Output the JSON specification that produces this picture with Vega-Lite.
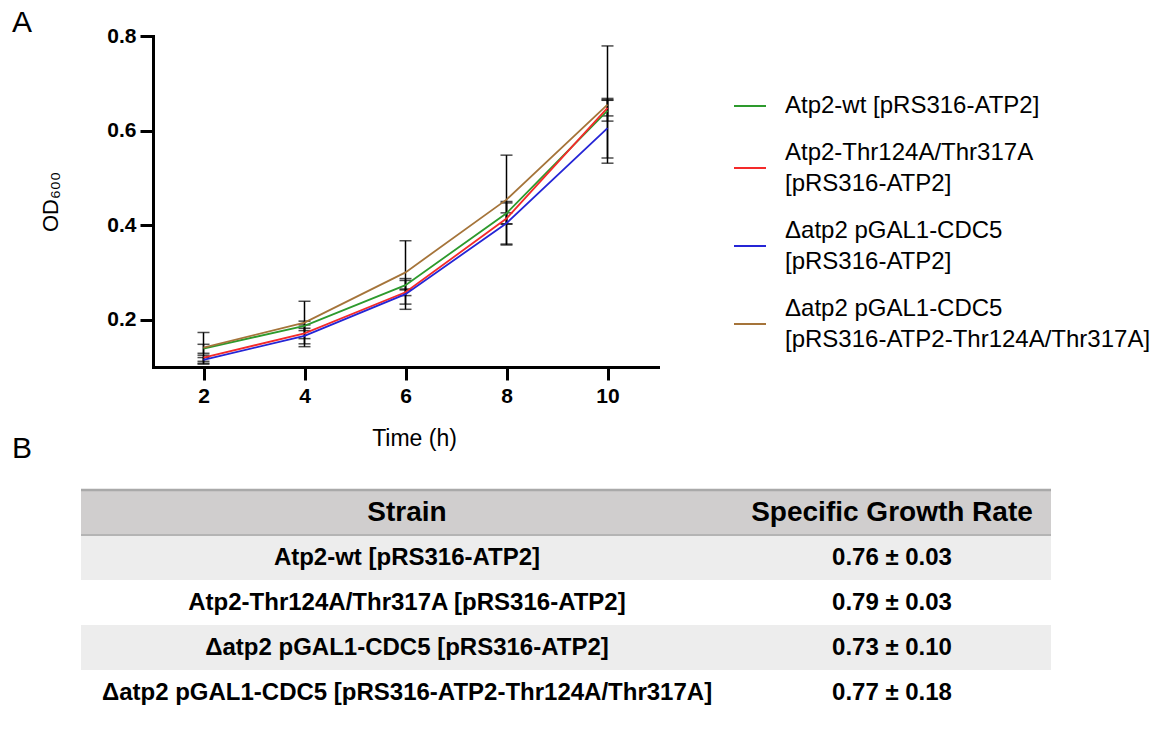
{
  "$schema": "https://vega.github.io/schema/vega-lite/v6.json",
  "background": "white",
  "padding": {"left": 12, "top": 7, "right": 5, "bottom": 5},
  "config": {
    "view": {"stroke": null},
    "font": "Liberation Sans",
    "axis": {"labelFont": "Liberation Sans", "titleFont": "Liberation Sans"},
    "legend": {"labelFont": "Liberation Sans", "titleFont": "Liberation Sans"},
    "title": {"font": "Liberation Sans"}
  },
  "resolve": {"scale": {"color": "independent"}, "legend": {"color": "independent"}},
  "datasets": {
    "growth": [
      {"strain": "Atp2-wt [pRS316-ATP2]", "time": 2, "od": 0.139, "lo": 0.129, "hi": 0.148},
      {"strain": "Atp2-wt [pRS316-ATP2]", "time": 4, "od": 0.187, "lo": 0.177, "hi": 0.197},
      {"strain": "Atp2-wt [pRS316-ATP2]", "time": 6, "od": 0.273, "lo": 0.263, "hi": 0.283},
      {"strain": "Atp2-wt [pRS316-ATP2]", "time": 8, "od": 0.425, "lo": 0.403, "hi": 0.447},
      {"strain": "Atp2-wt [pRS316-ATP2]", "time": 10, "od": 0.642, "lo": 0.620, "hi": 0.664},
      {"strain": "Atp2-Thr124A/Thr317A [pRS316-ATP2]", "time": 2, "od": 0.120, "lo": 0.112, "hi": 0.125},
      {"strain": "Atp2-Thr124A/Thr317A [pRS316-ATP2]", "time": 4, "od": 0.171, "lo": 0.160, "hi": 0.182},
      {"strain": "Atp2-Thr124A/Thr317A [pRS316-ATP2]", "time": 6, "od": 0.258, "lo": 0.251, "hi": 0.265},
      {"strain": "Atp2-Thr124A/Thr317A [pRS316-ATP2]", "time": 8, "od": 0.414, "lo": 0.402, "hi": 0.426},
      {"strain": "Atp2-Thr124A/Thr317A [pRS316-ATP2]", "time": 10, "od": 0.648, "lo": 0.631, "hi": 0.665},
      {"strain": "Δatp2 pGAL1-CDC5 [pRS316-ATP2]", "time": 2, "od": 0.115, "lo": 0.106, "hi": 0.120},
      {"strain": "Δatp2 pGAL1-CDC5 [pRS316-ATP2]", "time": 4, "od": 0.166, "lo": 0.143, "hi": 0.189},
      {"strain": "Δatp2 pGAL1-CDC5 [pRS316-ATP2]", "time": 6, "od": 0.254, "lo": 0.222, "hi": 0.287},
      {"strain": "Δatp2 pGAL1-CDC5 [pRS316-ATP2]", "time": 8, "od": 0.404, "lo": 0.358, "hi": 0.450},
      {"strain": "Δatp2 pGAL1-CDC5 [pRS316-ATP2]", "time": 10, "od": 0.605, "lo": 0.542, "hi": 0.668},
      {"strain": "Δatp2 pGAL1-CDC5 [pRS316-ATP2-Thr124A/Thr317A]", "time": 2, "od": 0.141, "lo": 0.108, "hi": 0.173},
      {"strain": "Δatp2 pGAL1-CDC5 [pRS316-ATP2-Thr124A/Thr317A]", "time": 4, "od": 0.194, "lo": 0.149, "hi": 0.239},
      {"strain": "Δatp2 pGAL1-CDC5 [pRS316-ATP2-Thr124A/Thr317A]", "time": 6, "od": 0.300, "lo": 0.233, "hi": 0.367},
      {"strain": "Δatp2 pGAL1-CDC5 [pRS316-ATP2-Thr124A/Thr317A]", "time": 8, "od": 0.454, "lo": 0.360, "hi": 0.548},
      {"strain": "Δatp2 pGAL1-CDC5 [pRS316-ATP2-Thr124A/Thr317A]", "time": 10, "od": 0.655, "lo": 0.531, "hi": 0.779}
    ],
    "rates": [
      {"strain": "Atp2-wt [pRS316-ATP2]", "rate": "0.76 ± 0.03"},
      {"strain": "Atp2-Thr124A/Thr317A [pRS316-ATP2]", "rate": "0.79 ± 0.03"},
      {"strain": "Δatp2 pGAL1-CDC5 [pRS316-ATP2]", "rate": "0.73 ± 0.10"},
      {"strain": "Δatp2 pGAL1-CDC5 [pRS316-ATP2-Thr124A/Thr317A]", "rate": "0.77 ± 0.18"}
    ],
    "header": [
      {"strain": "Strain", "rate": "Specific Growth Rate"}
    ]
  },
  "spacing": -17,
  "vconcat": [
    {
      "spacing": -43,
      "hconcat": [
        {
          "title": {"text": "A", "anchor": "start", "frame": "group", "orient": "top", "fontSize": 30, "fontWeight": "normal", "baseline": "alphabetic", "offset": -25.7, "dx": -69, "color": "black"},
          "width": 1,
          "height": 331,
          "data": {"values": [{}]},
          "mark": {"type": "text"},
          "encoding": {"text": {"value": ""}}
        },
        {
          "width": 505,
          "height": 331,
          "data": {"name": "growth"},
          "encoding": {
            "x": {
              "field": "time", "type": "quantitative",
              "scale": {"domain": [1, 11], "nice": false, "zero": false},
              "axis": {
                "values": [2, 4, 6, 8, 10], "title": "Time (h)", "grid": false,
                "titleFontSize": 23, "titleFontWeight": "normal", "titleColor": "black", "titlePadding": 21, "titleX": 261,
                "labelFontSize": 21, "labelFontWeight": "bold", "labelColor": "black", "labelPadding": 5, "labelFlush": false,
                "tickSize": 13, "tickWidth": 3, "tickColor": "black", "domainWidth": 3, "domainColor": "black", "domainCap": "square"
              }
            }
          },
          "layer": [
            {
              "mark": {"type": "rule", "color": "black", "strokeWidth": 1.5},
              "encoding": {
                "y": {
                  "field": "lo", "type": "quantitative", "title": "OD₆₀₀",
                  "scale": {"domain": [0.1, 0.8], "nice": false, "zero": false},
                  "axis": {
                    "values": [0.2, 0.4, 0.6, 0.8], "format": ".1f", "grid": false,
                    "titleFontSize": 22, "titleFontWeight": "normal", "titleColor": "black", "titlePadding": 44,
                    "labelFontSize": 21, "labelFontWeight": "bold", "labelColor": "black", "labelPadding": 4, "labelFlush": false,
                    "tickSize": 13, "tickWidth": 3, "tickColor": "black", "domainWidth": 3, "domainColor": "black", "domainCap": "square"
                  }
                },
                "y2": {"field": "hi"}
              }
            },
            {
              "mark": {"type": "tick", "orient": "horizontal", "color": "black", "size": 12, "thickness": 1.5},
              "encoding": {"y": {"field": "lo", "type": "quantitative", "title": "OD₆₀₀"}}
            },
            {
              "mark": {"type": "tick", "orient": "horizontal", "color": "black", "size": 12, "thickness": 1.5},
              "encoding": {"y": {"field": "hi", "type": "quantitative", "title": "OD₆₀₀"}}
            },
            {
              "mark": {"type": "line", "strokeWidth": 1.8},
              "encoding": {
                "y": {"field": "od", "type": "quantitative", "title": "OD₆₀₀"},
                "color": {
                  "field": "strain", "type": "nominal",
                  "scale": {
                    "domain": ["Atp2-wt [pRS316-ATP2]", "Atp2-Thr124A/Thr317A [pRS316-ATP2]", "Δatp2 pGAL1-CDC5 [pRS316-ATP2]", "Δatp2 pGAL1-CDC5 [pRS316-ATP2-Thr124A/Thr317A]"],
                    "range": ["#2d9a2d", "#f42a2a", "#2525d6", "#a5743a"]
                  },
                  "legend": {
                    "title": " ", "titleFontSize": 10, "titlePadding": 43,
                    "orient": "right", "offset": 75, "padding": 0,
                    "symbolType": "stroke", "symbolSize": 1024, "symbolStrokeWidth": 2,
                    "labelFontSize": 24, "labelColor": "black", "labelLimit": 600, "labelOffset": 18,
                    "rowPadding": 22, "labelBaseline": "middle",
                    "labelExpr": "length(datum.label) > 25 ? [substring(datum.label, 0, indexof(datum.label, ' [')), substring(datum.label, indexof(datum.label, ' [') + 1)] : datum.label",
                    "encode": {"labels": {"update": {"dy": {"signal": "length(datum.label) > 25 ? -15.5 : 0"}, "lineHeight": {"value": 31}}}}
                  }
                }
              }
            }
          ]
        }
      ]
    },
    {
      "spacing": 0,
      "bounds": "flush",
      "hconcat": [
        {
          "title": {"text": "B", "anchor": "start", "frame": "group", "orient": "top", "fontSize": 30, "fontWeight": "normal", "baseline": "alphabetic", "offset": 1, "dx": -69, "color": "black"},
          "width": 652,
          "height": 225,
          "layer": [
            {
              "data": {"name": "header"},
              "mark": {"type": "rect", "color": "#d0cece"},
              "encoding": {"y": {"field": "strain", "type": "nominal", "axis": null,
                "scale": {"domain": ["Strain", "Atp2-wt [pRS316-ATP2]", "Atp2-Thr124A/Thr317A [pRS316-ATP2]", "Δatp2 pGAL1-CDC5 [pRS316-ATP2]", "Δatp2 pGAL1-CDC5 [pRS316-ATP2-Thr124A/Thr317A]"], "paddingInner": 0, "paddingOuter": 0}}}
            },
            {
              "data": {"name": "rates"},
              "transform": [{"window": [{"op": "row_number", "as": "i"}]}],
              "mark": {"type": "rect"},
              "encoding": {
                "y": {"field": "strain", "type": "nominal"},
                "fill": {"condition": {"test": "datum.i % 2 == 1", "value": "#ededed"}, "value": "#ffffff"}
              }
            },
            {
              "data": {"name": "header"},
              "mark": {"type": "rule", "color": "#a9a9a9", "strokeWidth": 2.5},
              "encoding": {"y": {"field": "strain", "type": "nominal", "bandPosition": 0}}
            },
            {
              "data": {"name": "header"},
              "mark": {"type": "rule", "color": "#b4b4b4", "strokeWidth": 2},
              "encoding": {"y": {"field": "strain", "type": "nominal", "bandPosition": 1}}
            },
            {
              "data": {"name": "header"},
              "mark": {"type": "text", "fontSize": 28, "fontWeight": "bold", "color": "black"},
              "encoding": {"y": {"field": "strain", "type": "nominal"}, "text": {"field": "strain"}}
            },
            {
              "data": {"name": "rates"},
              "mark": {"type": "text", "fontSize": 24, "fontWeight": "bold", "color": "black"},
              "encoding": {"y": {"field": "strain", "type": "nominal"}, "text": {"field": "strain"}}
            }
          ]
        },
        {
          "width": 318,
          "height": 225,
          "layer": [
            {
              "data": {"name": "header"},
              "mark": {"type": "rect", "color": "#d0cece"},
              "encoding": {"y": {"field": "strain", "type": "nominal", "axis": null,
                "scale": {"domain": ["Strain", "Atp2-wt [pRS316-ATP2]", "Atp2-Thr124A/Thr317A [pRS316-ATP2]", "Δatp2 pGAL1-CDC5 [pRS316-ATP2]", "Δatp2 pGAL1-CDC5 [pRS316-ATP2-Thr124A/Thr317A]"], "paddingInner": 0, "paddingOuter": 0}}}
            },
            {
              "data": {"name": "rates"},
              "transform": [{"window": [{"op": "row_number", "as": "i"}]}],
              "mark": {"type": "rect"},
              "encoding": {
                "y": {"field": "strain", "type": "nominal"},
                "fill": {"condition": {"test": "datum.i % 2 == 1", "value": "#ededed"}, "value": "#ffffff"}
              }
            },
            {
              "data": {"name": "header"},
              "mark": {"type": "rule", "color": "#a9a9a9", "strokeWidth": 2.5},
              "encoding": {"y": {"field": "strain", "type": "nominal", "bandPosition": 0}}
            },
            {
              "data": {"name": "header"},
              "mark": {"type": "rule", "color": "#b4b4b4", "strokeWidth": 2},
              "encoding": {"y": {"field": "strain", "type": "nominal", "bandPosition": 1}}
            },
            {
              "data": {"name": "header"},
              "mark": {"type": "text", "fontSize": 28, "fontWeight": "bold", "color": "black"},
              "encoding": {"y": {"field": "strain", "type": "nominal"}, "text": {"field": "rate"}}
            },
            {
              "data": {"name": "rates"},
              "mark": {"type": "text", "fontSize": 24, "fontWeight": "bold", "color": "black"},
              "encoding": {"y": {"field": "strain", "type": "nominal"}, "text": {"field": "rate"}}
            }
          ]
        }
      ]
    }
  ]
}
